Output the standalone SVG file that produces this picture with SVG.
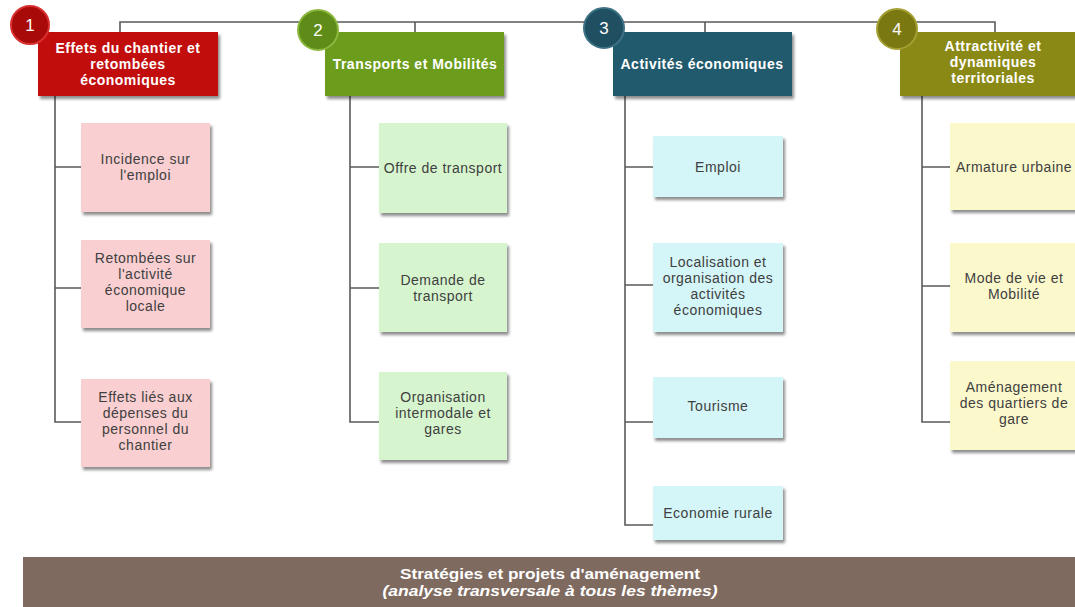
<svg xmlns="http://www.w3.org/2000/svg" width="1075" height="607" viewBox="0 0 1075 607">
<defs>
<filter id="sh" x="-10%" y="-10%" width="130%" height="130%">
<feGaussianBlur in="SourceAlpha" stdDeviation="1.5"/>
<feOffset dx="1.5" dy="2.5" result="b"/>
<feComponentTransfer><feFuncA type="linear" slope="0.45"/></feComponentTransfer>
<feMerge><feMergeNode/><feMergeNode in="SourceGraphic"/></feMerge>
</filter>
</defs>
<style>
.hd{font-family:"Liberation Sans",Arial,sans-serif;font-weight:bold;font-size:14px;fill:#fff;text-anchor:middle;letter-spacing:0.5px}
.num{font-family:"Liberation Sans",Arial,sans-serif;font-size:17px;fill:#fff;text-anchor:middle}
.ch{font-family:"Liberation Sans",Arial,sans-serif;font-size:14px;fill:#404040;text-anchor:middle;letter-spacing:0.5px}
.ln{fill:none;stroke:#5a5a5a;stroke-width:1.6}
.p{fill:#f9cfd1;filter:url(#sh)}
.g{fill:#d6f5cf;filter:url(#sh)}
.c{fill:#d4f6f8;filter:url(#sh)}
.y{fill:#fbf8cc;filter:url(#sh)}
.bt{font-family:"Liberation Sans",Arial,sans-serif;font-weight:bold;font-size:14px;fill:#fff;text-anchor:middle}
</style>
<rect width="1075" height="607" fill="#fff"/>
<g id="connectors" class="ln">
<path d="M120,32V22H995V32M415,22V32M705,22V32"/>
<path d="M55,96V422H81M55,167H81M55,288H81"/>
<path d="M350,96V422H379M350,167H379M350,288H379"/>
<path d="M625,96V525H653M625,167H653M625,285H653M625,422H653"/>
<path d="M922,96V422H950M922,167H950M922,286H950"/>
</g>
<g id="h1">
<rect x="38" y="32" width="180" height="64" fill="#c20b0b" filter="url(#sh)"/>
<circle cx="30" cy="25" r="19" fill="#a80a0a" stroke="#d83030" stroke-width="2"/>
<text class="num" x="30" y="31">1</text>
<text class="hd" x="128" y="53">Effets du chantier et</text>
<text class="hd" x="128" y="69">retombées</text>
<text class="hd" x="128" y="85">économiques</text>
</g>
<g id="h2">
<rect x="325" y="32" width="179" height="64" fill="#6c9c1c" filter="url(#sh)"/>
<circle cx="318" cy="30" r="20" fill="#5f8c18" stroke="#8cb840" stroke-width="2"/>
<text class="num" x="318" y="36">2</text>
<text class="hd" x="415" y="69">Transports et Mobilités</text>
</g>
<g id="h3">
<rect x="613" y="32" width="179" height="64" fill="#245a6d" filter="url(#sh)"/>
<circle cx="604" cy="28" r="20" fill="#1f4f60" stroke="#3d7184" stroke-width="2"/>
<text class="num" x="604" y="34">3</text>
<text class="hd" x="702" y="69">Activités économiques</text>
</g>
<g id="h4">
<rect x="900" y="32" width="180" height="64" fill="#8b8912" filter="url(#sh)"/>
<circle cx="897" cy="29" r="20" fill="#7a7810" stroke="#a4a034" stroke-width="2"/>
<text class="num" x="897" y="35">4</text>
<text class="hd" x="993" y="51">Attractivité et</text>
<text class="hd" x="993" y="67">dynamiques</text>
<text class="hd" x="993" y="83">territoriales</text>
</g>
<g id="n1a"><rect class="p" x="81" y="123" width="129" height="89"/>
<text class="ch" x="145.5" y="164">Incidence sur</text><text class="ch" x="145.5" y="180">l'emploi</text></g>
<g id="n1b"><rect class="p" x="81" y="240" width="129" height="88"/>
<text class="ch" x="145.5" y="263">Retombées sur</text><text class="ch" x="145.5" y="279">l'activité</text><text class="ch" x="145.5" y="295">économique</text><text class="ch" x="145.5" y="311">locale</text></g>
<g id="n1c"><rect class="p" x="81" y="379" width="129" height="88"/>
<text class="ch" x="145.5" y="402">Effets liés aux</text><text class="ch" x="145.5" y="418">dépenses du</text><text class="ch" x="145.5" y="434">personnel du</text><text class="ch" x="145.5" y="450">chantier</text></g>
<g id="n2a"><rect class="g" x="379" y="123" width="128" height="90"/>
<text class="ch" x="443" y="173">Offre de transport</text></g>
<g id="n2b"><rect class="g" x="379" y="243" width="128" height="89"/>
<text class="ch" x="443" y="285">Demande de</text><text class="ch" x="443" y="301">transport</text></g>
<g id="n2c"><rect class="g" x="379" y="372" width="128" height="88"/>
<text class="ch" x="443" y="402">Organisation</text><text class="ch" x="443" y="418">intermodale et</text><text class="ch" x="443" y="434">gares</text></g>
<g id="n3a"><rect class="c" x="653" y="136" width="130" height="61"/>
<text class="ch" x="718" y="172">Emploi</text></g>
<g id="n3b"><rect class="c" x="653" y="243" width="130" height="89"/>
<text class="ch" x="718" y="267">Localisation et</text><text class="ch" x="718" y="283">organisation des</text><text class="ch" x="718" y="299">activités</text><text class="ch" x="718" y="315">économiques</text></g>
<g id="n3c"><rect class="c" x="653" y="377" width="130" height="61"/>
<text class="ch" x="718" y="411">Tourisme</text></g>
<g id="n3d"><rect class="c" x="653" y="486" width="130" height="54"/>
<text class="ch" x="718" y="518">Economie rurale</text></g>
<g id="n4a"><rect class="y" x="950" y="123" width="128" height="87"/>
<text class="ch" x="1014" y="172">Armature urbaine</text></g>
<g id="n4b"><rect class="y" x="950" y="243" width="128" height="89"/>
<text class="ch" x="1014" y="283">Mode de vie et</text><text class="ch" x="1014" y="299">Mobilité</text></g>
<g id="n4c"><rect class="y" x="950" y="361" width="128" height="89"/>
<text class="ch" x="1014" y="392">Aménagement</text><text class="ch" x="1014" y="408">des quartiers de</text><text class="ch" x="1014" y="424">gare</text></g>
<g id="bar">
<rect x="23" y="557" width="1060" height="55" fill="#7f6a60"/>
<text class="bt" x="550" y="579" textLength="300" lengthAdjust="spacingAndGlyphs">Stratégies et projets d'aménagement</text>
<text class="bt" x="550" y="596" font-style="italic" textLength="335" lengthAdjust="spacingAndGlyphs">(analyse transversale à tous les thèmes)</text>
</g>
</svg>
